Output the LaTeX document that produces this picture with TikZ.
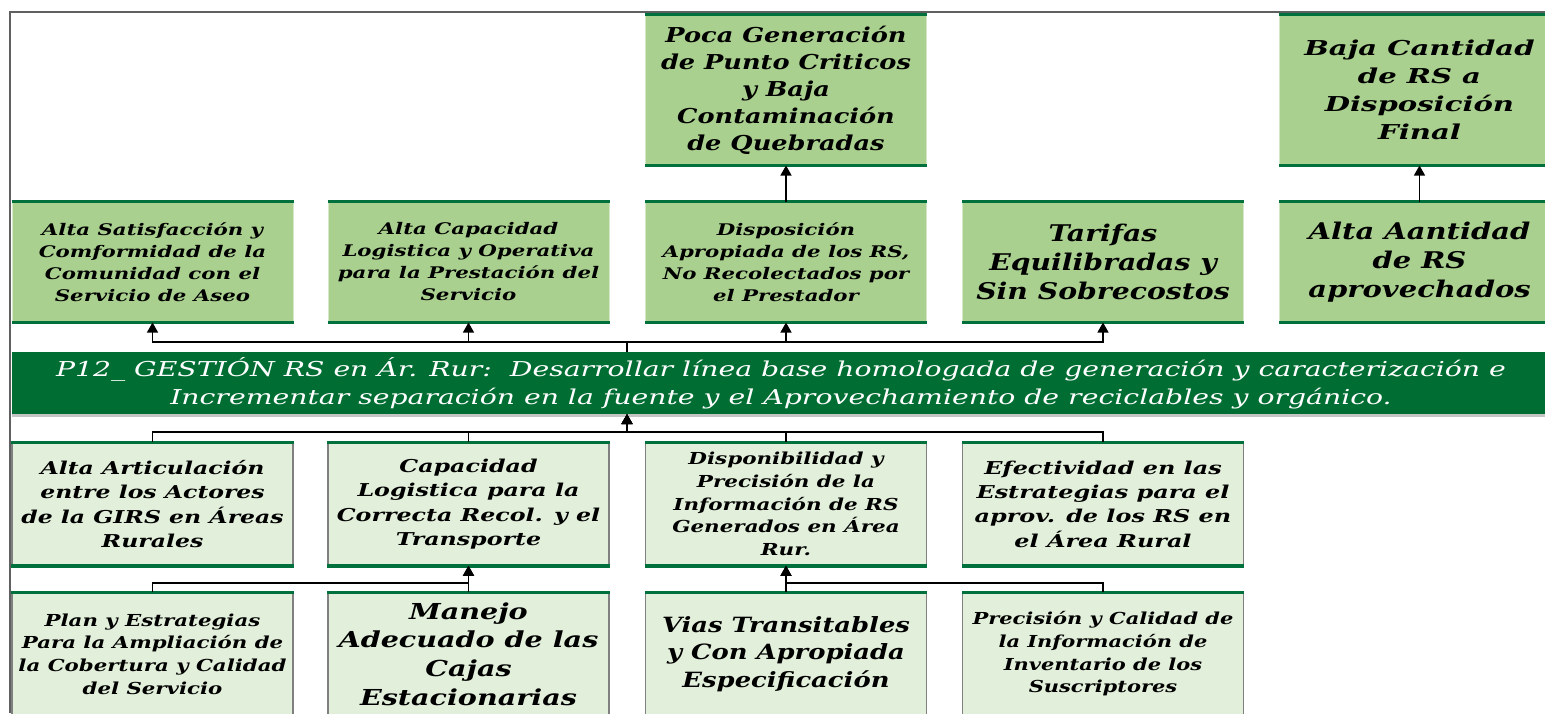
\documentclass[tikz,border=0pt]{standalone}
\usepackage{fontspec}
\setmainfont{DejaVu Serif}
\usetikzlibrary{arrows.meta,shadows,calc}
\definecolor{gdark}{HTML}{00703C}
\definecolor{gmid}{HTML}{A9D08E}
\definecolor{glight}{HTML}{E2EFDA}
\definecolor{gban}{HTML}{006E33}
\definecolor{frame}{HTML}{606060}
\newcommand\gf[3]{\fontsize{#1}{#2}\selectfont\bfseries\itshape\addfontfeature{FakeStretch=#3}}
\newcommand\gfi[3]{\fontsize{#1}{#2}\selectfont\itshape\addfontfeature{FakeStretch=#3}}
\begin{document}
\begin{tikzpicture}[x=1pt,y=-1pt,
  bar/.style={draw=gdark, line width=3.5pt},
  box/.style={rectangle, inner sep=0pt, minimum width=281pt, minimum height=120pt,
    align=center, font=\gf{16}{22}{1.33},
    append after command={(\tikzlastnode.north west) edge[bar] (\tikzlastnode.north east)
      (\tikzlastnode.south west) edge[bar] (\tikzlastnode.south east)}},
  midbox/.style={box, fill=gmid, draw=gmid!50!white, line width=1pt},
  lightbox/.style={box, fill=glight, draw=gray, line width=1.5pt, minimum height=122pt},
  banner/.style={rectangle, inner sep=0pt, minimum width=1538pt, minimum height=62pt,
    fill=gban, text=white, align=center, font=\gfi{20.5}{28}{1.38},
    drop shadow={shadow xshift=0pt, shadow yshift=-3pt, opacity=0.45}},
  conn/.style={draw=black, line width=1.2pt},
  arr/.style={conn, -{Triangle[width=11pt,length=10pt]}}
]
\path[use as bounding box] (0,0) rectangle (1545,713);
\clip (0,0) rectangle (1545,713);
\fill[white] (0,0) rectangle (1545,713);
\draw[frame, line width=1.5pt] (10,713) -- (10,12) -- (1545,12);

% row 1
\node[midbox, minimum height=150pt, font=\gf{20.5}{27}{1.25}] (poca) at (786,90) {Poca Generación\\de Punto Criticos\\y Baja\\Contaminación\\de Quebradas};
\node[midbox, minimum height=150pt, font=\gf{20.5}{28}{1.42}] (baja) at (1419.5,90) {Baja Cantidad\\de RS a\\Disposición\\Final};

% row 2
\node[midbox] (sat) at (152.5,262) {Alta Satisfacción y\\Comformidad de la\\Comunidad con el\\Servicio de Aseo};
\node[midbox] (cap) at (468.5,262) {Alta Capacidad\\Logistica y Operativa\\para la Prestación del\\Servicio};
\node[midbox] (disp) at (786,262) {Disposición\\Apropiada de los RS,\\No Recolectados por\\el Prestador};
\node[midbox, font=\gf{23}{29}{1.23}] (tar) at (1103,262) {Tarifas\\Equilibradas y\\Sin Sobrecostos};
\node[midbox, font=\gf{23}{29}{1.26}] (alta) at (1419.5,262) {Alta Aantidad\\de RS\\aprovechados};

% banner
\node[banner] (ban) at (781,383) {P12\_ GESTIÓN RS en Ár. Rur:\ \ Desarrollar línea base homologada de generación y caracterización e\\Incrementar separación en la fuente y el Aprovechamiento de reciclables y orgánico.};

% row 3
\node[lightbox, font=\gf{17.7}{24.3}{1.33}] (art) at (152.5,504) {Alta Articulación\\entre los Actores\\de la GIRS en Áreas\\Rurales};
\node[lightbox, font=\gf{17.7}{24.3}{1.34}] (log) at (468.5,504) {Capacidad\\Logistica para la\\Correcta Recol. y el\\Transporte};
\node[lightbox, font=\gf{16.5}{22.8}{1.30}] (inf) at (786,504) {Disponibilidad y\\Precisión de la\\Información de RS\\Generados en Área\\Rur.};
\node[lightbox, font=\gf{17.7}{24.3}{1.35}] (efe) at (1103,504) {Efectividad en las\\Estrategias para el\\aprov. de los RS en\\el Área Rural};

% row 4
\node[lightbox, font=\gf{16.5}{22.7}{1.29}] (plan) at (152.5,654) {Plan y Estrategias\\Para la Ampliación de\\la Cobertura y Calidad\\del Servicio};
\node[lightbox, font=\gf{22}{28.7}{1.30}] (man) at (468.5,654) {Manejo\\Adecuado de las\\Cajas\\Estacionarias};
\node[lightbox, font=\gf{21}{27.5}{1.23}] (vias) at (786,654) {Vias Transitables\\y Con Apropiada\\Especificación};
\node[lightbox, font=\gf{16.5}{22.7}{1.27}] (pre) at (1103,654) {Precisión y Calidad de\\la Información de\\Inventario de los\\Suscriptores};

% connector anchors
\coordinate (bantop) at (627,352);
\coordinate (banbot) at (627,414);
\coordinate (h1) at (0,342);
\coordinate (h2) at (0,432);
\coordinate (h3) at (0,583);

% banner -> row 2
\foreach \n in {sat,cap,disp,tar}{
  \draw[arr] (bantop) -- (bantop |- h1) -| (\n.south);
}
% row 3 -> banner
\foreach \n in {art,log,inf,efe}{
  \draw[arr] (\n.north) -- (\n.north |- h2) -| (banbot);
}
% row 4 -> row 3
\draw[arr] (plan.north) -- (plan.north |- h3) -| (log.south);
\draw[arr] (man.north) -- (log.south);
\draw[arr] (vias.north) -- (inf.south);
\draw[arr] (pre.north) -- (pre.north |- h3) -| (inf.south);
% row 2 -> row 1
\draw[arr] (disp.north) -- (poca.south);
\draw[arr] (alta.north) -- (baja.south);
\end{tikzpicture}
\end{document}
